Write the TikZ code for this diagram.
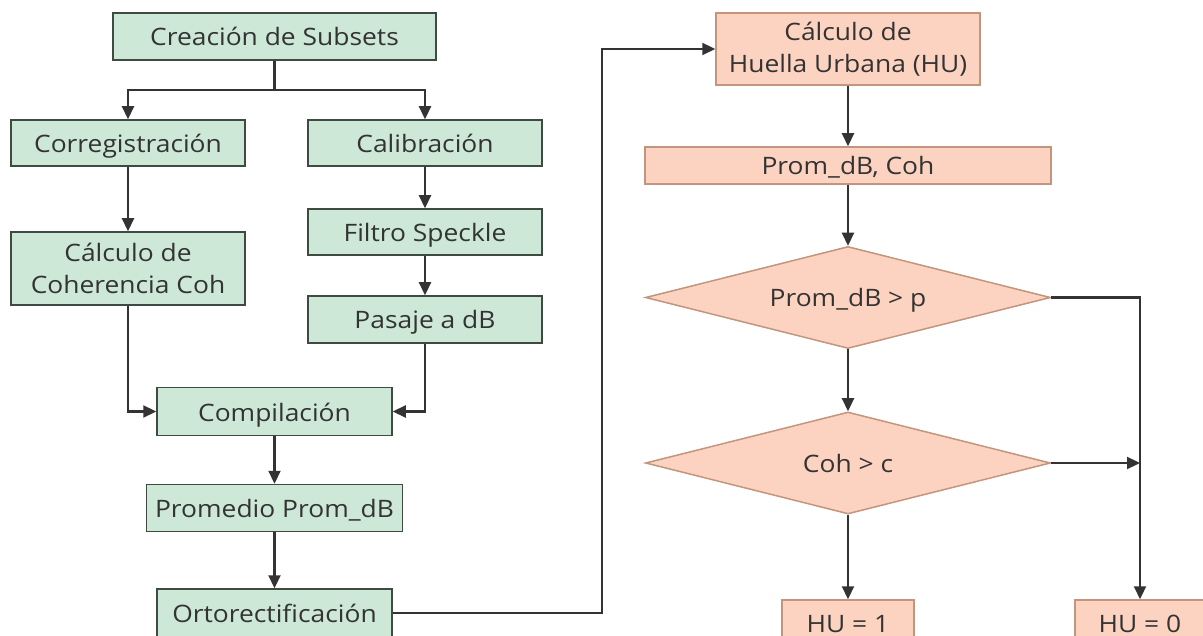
\documentclass[tikz,border=0pt]{standalone}
\usepackage{fontspec}
\setmainfont[FakeStretch=1.1]{Open Sans}
\usetikzlibrary{arrows.meta,shapes.geometric}
\definecolor{gfill}{HTML}{CDE8D6}
\definecolor{gline}{HTML}{3E4A42}
\definecolor{sfill}{HTML}{FCD3C1}
\definecolor{sline}{HTML}{C4957E}
\definecolor{txt}{HTML}{333333}
\definecolor{conn}{HTML}{333333}
\tikzset{
  gbox/.style={draw=gline, fill=gfill, line width=1.5pt, inner sep=0pt, text=txt, align=center, font=\fontsize{24}{32}\selectfont},
  sbox/.style={draw=sline, fill=sfill, line width=1.5pt, inner sep=0pt, text=txt, align=center, font=\fontsize{24}{32}\selectfont},
  oneline/.style={text height=20pt, text depth=1pt},
  sdia/.style={sbox, diamond, aspect=4},
  arr/.style={draw=conn, line width=2.2pt, -{Triangle[length=13pt,width=12pt]}},
}
\begin{document}
\begin{tikzpicture}[x=1pt,y=-1pt]
\useasboundingbox (0,0) rectangle (1203,636);
\clip (0,0) rectangle (1203,636);
\fill[white] (0,0) rectangle (1203,636);
% left column
\node[gbox, oneline, minimum width=323pt, minimum height=47pt] (cs) at (274.5,36.5) {Creación de Subsets};
\node[gbox, oneline, minimum width=234pt, minimum height=46pt] (cor) at (128,143) {Corregistración};
\node[gbox, oneline, minimum width=234pt, minimum height=46pt] (cal) at (425,143) {Calibración};
\node[gbox, minimum width=234pt, minimum height=73pt] (coh) at (128,268.5) {Cálculo de\\Coherencia Coh};
\node[gbox, oneline, minimum width=234pt, minimum height=46pt] (fil) at (425,232) {Filtro Speckle};
\node[gbox, oneline, minimum width=234pt, minimum height=47pt] (pas) at (425,319.5) {Pasaje a dB};
\node[gbox, oneline, minimum width=235pt, minimum height=48pt] (comp) at (274.5,411.5) {Compilación};
\node[gbox, oneline, minimum width=256pt, minimum height=47pt] (prom) at (274.5,508) {Promedio Prom\_dB};
\node[gbox, oneline, minimum width=235pt, minimum height=48pt] (orto) at (274.5,613) {Ortorectificación};
% right column
\node[sbox, minimum width=264pt, minimum height=72pt] (hu) at (848,49) {Cálculo de\\Huella Urbana (HU)};
\node[sbox, oneline, minimum width=406pt, minimum height=37pt] (pc) at (848,165.5) {Prom\_dB, Coh};
\node[sdia, oneline, minimum width=405pt, minimum height=102pt] (d1) at (848,297.5) {Prom\_dB > p};
\node[sdia, oneline, minimum width=405pt, minimum height=102pt] (d2) at (848,463) {Coh > c};
\node[sbox, oneline, minimum width=132pt, minimum height=46pt] (hu1) at (848,623) {HU = 1};
\node[sbox, oneline, minimum width=130pt, minimum height=46pt] (hu0) at (1140,623) {HU = 0};
\coordinate (j1) at (602,613);
\coordinate (j3) at (1140,463);
% connectors left
\draw[arr] (cs.south) -- ++(0,29) -| (cor.north);
\draw[arr] (cs.south) -- ++(0,29) -| (cal.north);
\draw[arr] (cor.south) -- (coh.north);
\draw[arr] (cal.south) -- (fil.north);
\draw[arr] (fil.south) -- (pas.north);
\draw[arr] (coh.south) |- (comp.west);
\draw[arr] (pas.south) |- (comp.east);
\draw[arr] (comp.south) -- (prom.north);
\draw[arr] (prom.south) -- (orto.north);
\draw[arr] (orto.east) -- (j1) |- (hu.west);
% connectors right
\draw[arr] (hu.south) -- (pc.north);
\draw[arr] (pc.south) -- (d1.north);
\draw[arr] (d1.south) -- (d2.north);
\draw[arr] (d2.south) -- (hu1.north);
\draw[arr] (d1.east) -| (hu0.north);
\draw[arr] (d2.east) -- (j3);
\end{tikzpicture}
\end{document}
